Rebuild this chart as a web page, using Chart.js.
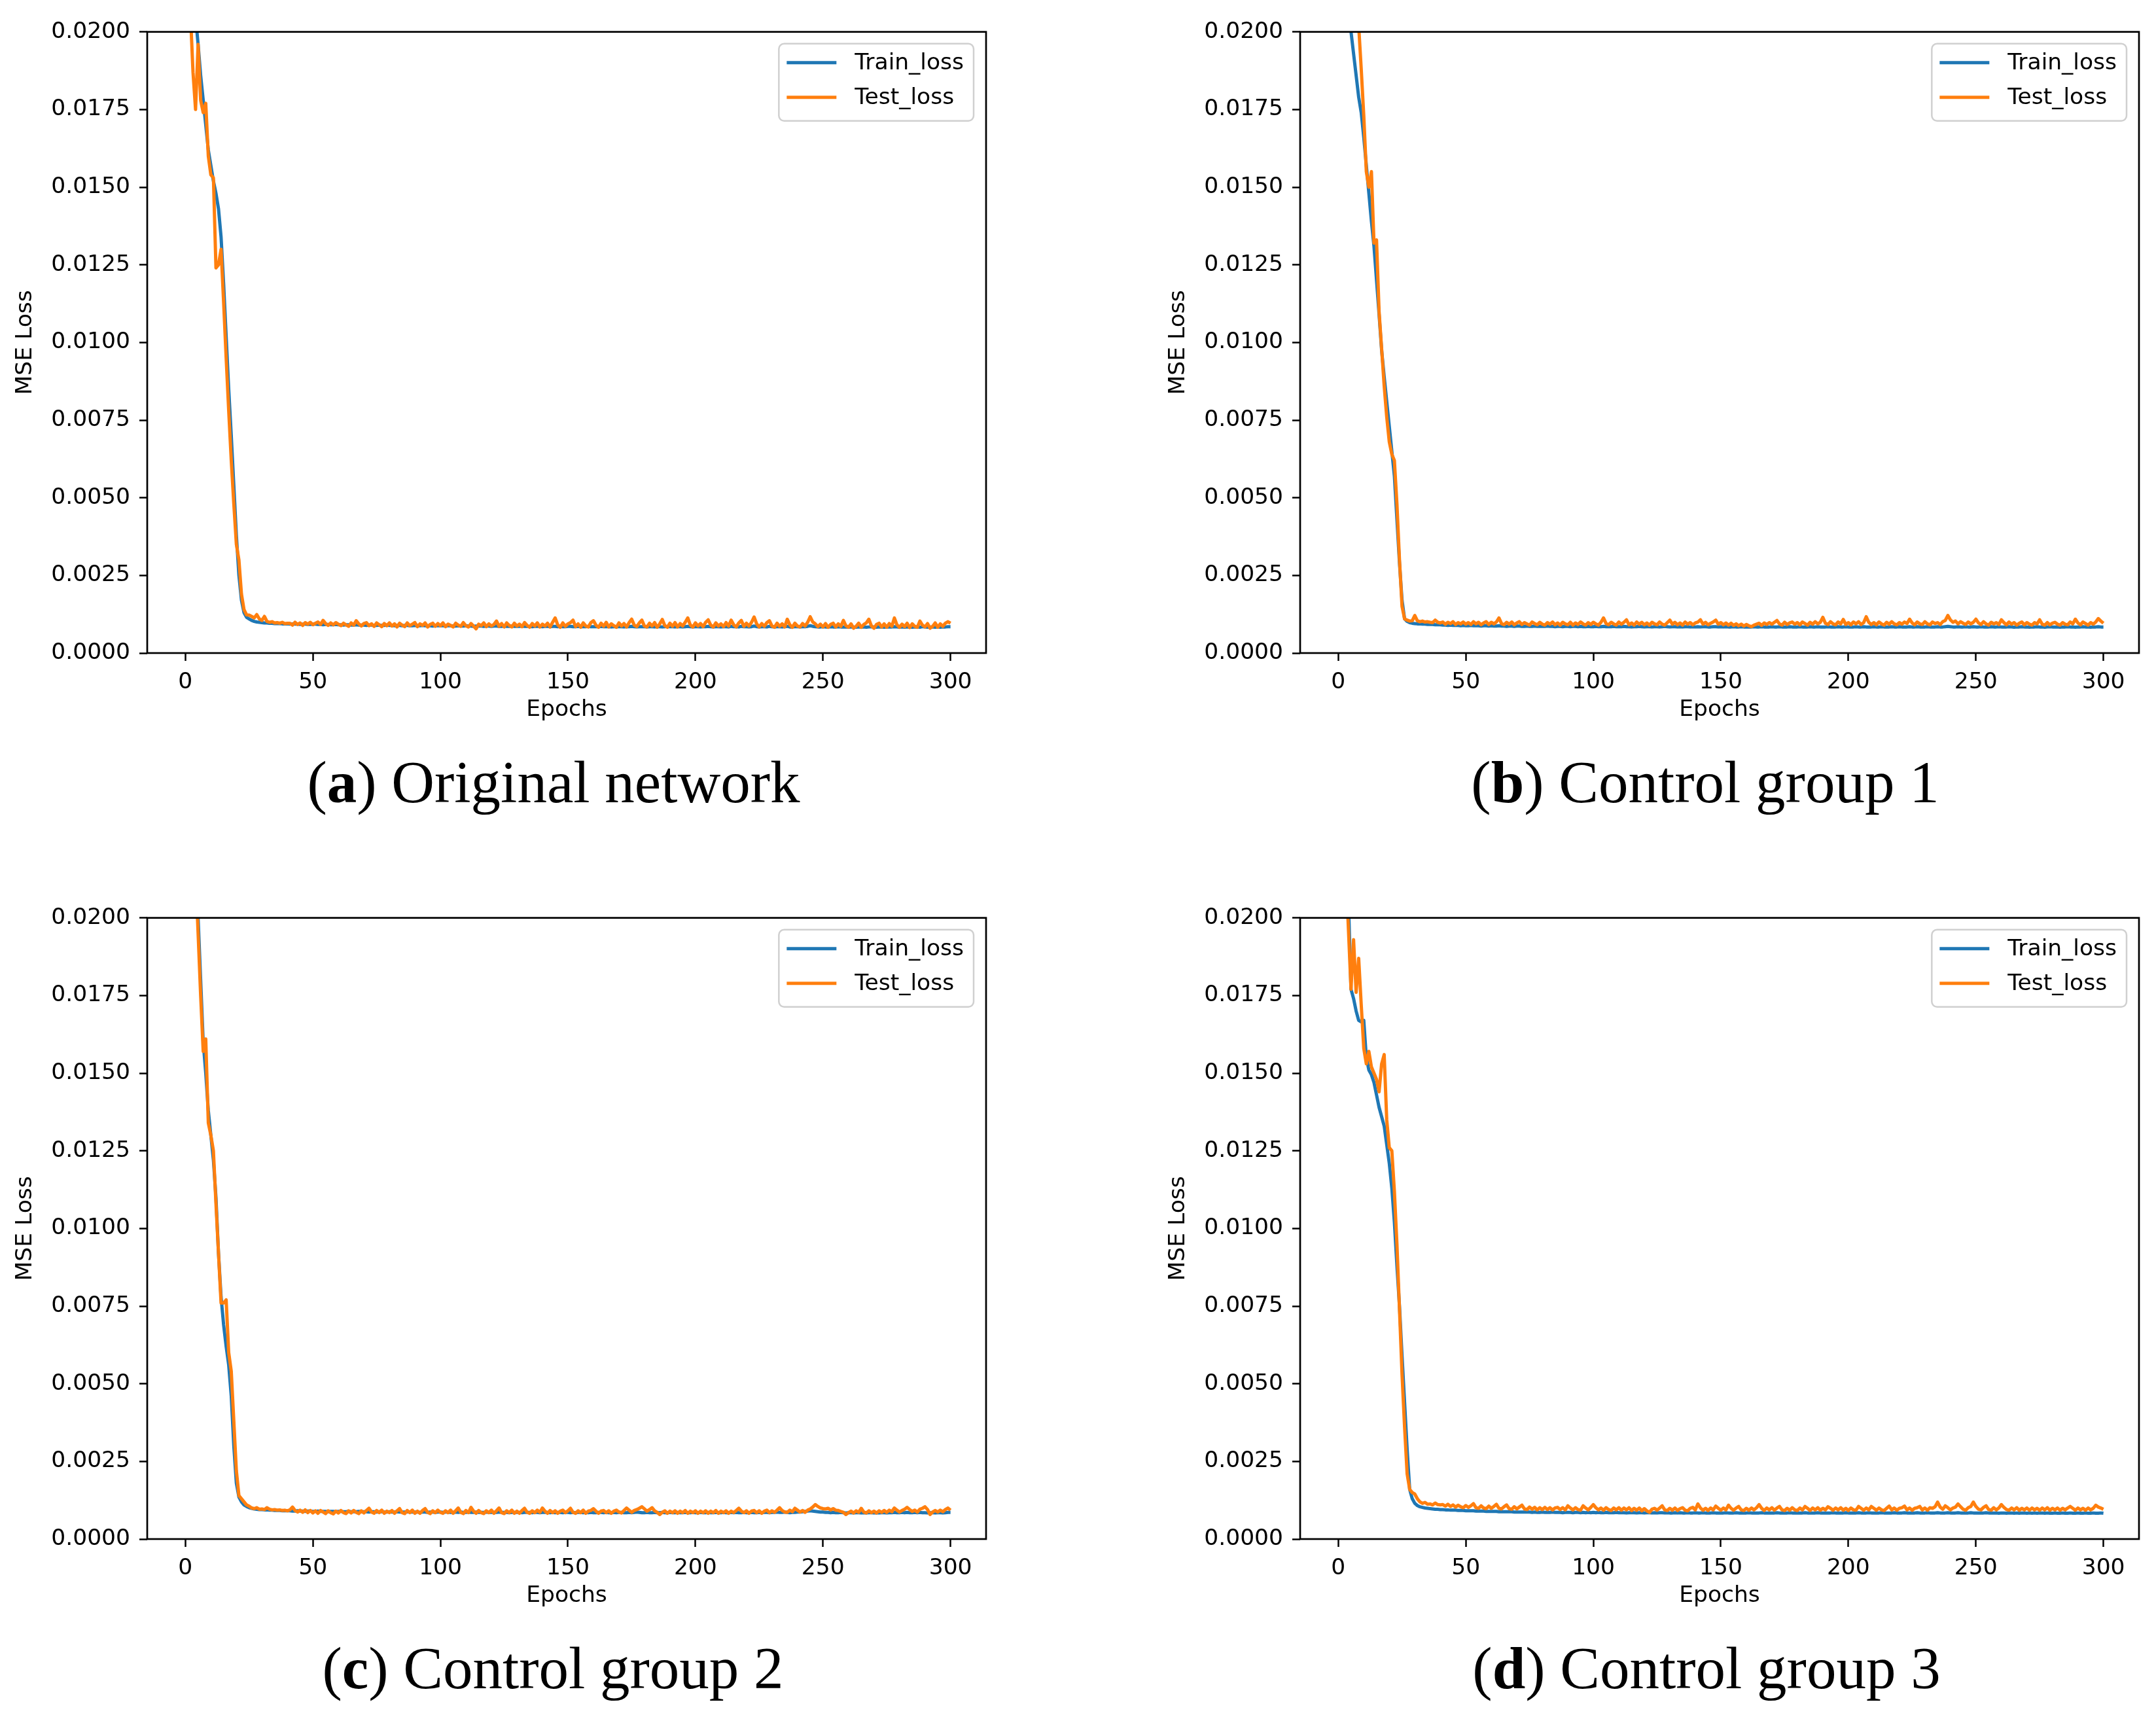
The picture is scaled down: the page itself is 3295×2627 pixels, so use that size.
<!DOCTYPE html>
<html>
<head>
<meta charset="utf-8">
<script src="https://cdn.jsdelivr.net/npm/chart.js@4.4.0/dist/chart.umd.min.js"></script>
<style>
  body { margin: 0; width: 3295px; height: 2627px; background: #fff; position: relative; overflow: hidden; }
  .panel { position: absolute; width: 1537px; height: 1104px; }
  .caption { position: absolute; width: 1600px; text-align: center; font-family: "Liberation Serif", serif;
             font-size: 91px; line-height: 91px; color: #000; white-space: nowrap; }
</style>
</head>
<body>
<div class="panel" style="left:0px;top:14px"><canvas id="chartA"></canvas></div>
<div class="panel" style="left:1762px;top:14px"><canvas id="chartB"></canvas></div>
<div class="panel" style="left:0px;top:1368px"><canvas id="chartC"></canvas></div>
<div class="panel" style="left:1762px;top:1368px"><canvas id="chartD"></canvas></div>

<div class="caption" style="left:46px;top:1150px">(<b>a</b>) Original network</div>
<div class="caption" style="left:1806px;top:1150px">(<b>b</b>) Control group 1</div>
<div class="caption" style="left:45px;top:2504px">(<b>c</b>) Control group 2</div>
<div class="caption" style="left:1808px;top:2504px">(<b>d</b>) Control group 3</div>

<script>
// losses are stored in units of 1e-5 (e.g. 92 = 0.00092), epoch 1..300
const EPOCHS = Array.from({ length: 300 }, (_, i) => i + 1);
const X_TICKS = [0, 50, 100, 150, 200, 250, 300];
const Y_TICKS = [0, 250, 500, 750, 1000, 1250, 1500, 1750, 2000];
const Y_TICK_LABELS = ["0.0000", "0.0025", "0.0050", "0.0075", "0.0100", "0.0125", "0.0150", "0.0175", "0.0200"];
const SERIES_NAMES = ["Train_loss", "Test_loss"];

const TRAIN_A = [
  2700, 2450, 2250, 2050, 1960, 1860, 1780, 1700, 1620, 1570,
  1520, 1480, 1430, 1340, 1190, 1020, 850, 700, 540, 380,
  250, 170, 130, 115, 110, 105, 102, 100, 99, 98,
  97, 97, 96, 96, 95, 95, 95, 94, 94, 94,
  93, 94, 93, 93, 92, 93, 93, 92, 92, 93,
  93, 92, 92, 91, 92, 92, 91, 91, 92, 91,
  91, 90, 91, 91, 90, 90, 91, 90, 90, 90,
  89, 90, 90, 89, 89, 90, 89, 89, 90, 89,
  89, 88, 89, 89, 88, 89, 89, 88, 88, 89,
  88, 88, 89, 88, 88, 88, 87, 88, 88, 88,
  88, 87, 88, 88, 87, 87, 88, 87, 87, 88,
  87, 87, 86, 87, 87, 87, 86, 87, 87, 86,
  87, 87, 86, 86, 87, 86, 86, 87, 86, 86,
  86, 87, 86, 86, 86, 85, 86, 86, 86, 85,
  86, 86, 85, 86, 86, 85, 86, 85, 85, 86,
  86, 85, 85, 86, 85, 85, 85, 86, 85, 85,
  85, 85, 86, 85, 85, 85, 84, 85, 85, 85,
  85, 84, 85, 85, 86, 85, 84, 85, 85, 85,
  84, 85, 85, 84, 85, 85, 84, 85, 86, 85,
  85, 84, 85, 85, 84, 85, 86, 85, 84, 85,
  85, 84, 85, 85, 86, 85, 84, 85, 85, 84,
  85, 85, 84, 86, 85, 85, 84, 86, 85, 85,
  84, 85, 87, 85, 84, 85, 85, 84, 86, 85,
  84, 85, 85, 84, 85, 86, 84, 84, 85, 85,
  84, 85, 85, 86, 88, 86, 85, 84, 84, 85,
  84, 84, 85, 84, 84, 85, 84, 84, 84, 83,
  84, 84, 83, 84, 84, 84, 83, 84, 85, 84,
  83, 84, 84, 83, 84, 84, 84, 85, 84, 83,
  84, 83, 84, 84, 83, 84, 84, 83, 85, 84,
  83, 84, 84, 83, 84, 83, 84, 84, 85, 85
];
const TEST_A = [
  2350, 2060, 1870, 1750, 1960, 1780, 1740, 1770, 1600, 1540,
  1530, 1240, 1250, 1300, 1130, 950, 780, 620, 480, 350,
  300, 190, 140, 123, 122, 118, 113, 124, 110, 105,
  118, 102, 99, 101, 97, 98, 96, 99, 95, 96,
  96, 90, 99, 92, 97, 89, 98, 93, 99, 91,
  96, 100, 92, 105, 95, 89, 97, 91, 98, 93,
  88, 96, 91, 86, 97, 90, 104, 94, 87, 95,
  98, 88, 94, 86, 97, 91, 85, 95, 88, 97,
  87, 94, 84, 96, 90, 85, 97, 88, 93, 98,
  85, 94, 89, 97, 84, 92, 96, 86, 95, 88,
  97, 85, 93, 89, 84, 96, 90, 86, 98, 88,
  84, 95, 87, 78, 93, 88, 97, 85, 94, 87,
  92, 103, 86, 95, 84, 97, 89, 84, 96, 87,
  93, 85, 98, 89, 83, 95, 87, 97, 84, 93,
  87, 96, 84, 99, 113, 91, 83, 97, 86, 94,
  98, 106, 85, 94, 83, 97, 87, 84, 98, 104,
  90, 83, 96, 86, 99, 84, 94, 88, 83, 97,
  87, 95, 84, 98, 109, 90, 85, 97, 106, 87,
  84, 96, 87, 98, 83, 94, 108, 88, 83, 96,
  86, 98, 84, 95, 87, 99, 113, 90, 84, 97,
  87, 95, 85, 99, 107, 90, 84, 97, 87, 94,
  85, 98, 87, 106, 91, 84, 97, 105, 86, 96,
  87, 99, 116, 94, 84, 95, 86, 98, 104, 87,
  83, 96, 86, 94, 84, 109, 91, 83, 96, 87,
  84, 95, 87, 99, 117, 100, 94, 85, 93, 84,
  95, 83, 92, 96, 84, 94, 86, 105, 88, 83,
  94, 80, 86, 96, 83, 92, 97, 109, 87, 80,
  92, 96, 84, 94, 83, 95, 86, 113, 91, 83,
  93, 85, 96, 82, 94, 86, 83, 103, 90, 84,
  95, 80, 86, 97, 83, 94, 86, 96, 101, 96
];

const TRAIN_B = [
  2500, 2350, 2200, 2100, 2000, 1930, 1860, 1790, 1740, 1660,
  1570, 1480, 1390, 1310, 1200, 1090, 975, 890, 810, 730,
  650, 570, 430, 290, 170, 110, 102, 98, 96, 95,
  94, 94, 93, 93, 92, 92, 92, 91, 91, 91,
  90, 90, 89, 90, 89, 89, 89, 88, 89, 88,
  88, 89, 88, 88, 88, 87, 88, 88, 87, 88,
  87, 87, 88, 87, 87, 86, 87, 87, 86, 87,
  87, 86, 86, 87, 86, 86, 87, 86, 86, 86,
  86, 87, 86, 86, 85, 86, 86, 85, 86, 86,
  85, 86, 86, 85, 86, 85, 85, 86, 85, 85,
  86, 85, 85, 86, 85, 85, 85, 86, 85, 85,
  85, 86, 85, 85, 84, 85, 85, 86, 85, 84,
  85, 85, 84, 85, 85, 84, 85, 86, 85, 84,
  85, 85, 84, 85, 84, 85, 85, 84, 85, 84,
  85, 84, 85, 85, 84, 84, 85, 85, 84, 85,
  84, 85, 84, 84, 85, 84, 84, 85, 84, 84,
  84, 84, 85, 84, 84, 85, 84, 84, 84, 85,
  84, 84, 85, 84, 84, 84, 85, 84, 84, 84,
  85, 84, 84, 84, 85, 84, 84, 85, 84, 84,
  84, 85, 84, 84, 84, 85, 84, 84, 85, 84,
  84, 84, 85, 84, 84, 85, 84, 84, 84, 85,
  84, 84, 85, 84, 84, 84, 85, 84, 84, 85,
  84, 84, 84, 85, 84, 84, 85, 84, 84, 84,
  85, 84, 84, 84, 85, 84, 84, 85, 86, 85,
  84, 84, 85, 84, 84, 85, 84, 84, 85, 84,
  84, 85, 84, 84, 84, 85, 84, 84, 85, 84,
  84, 84, 85, 84, 83, 84, 84, 85, 84, 84,
  83, 84, 84, 85, 84, 84, 83, 84, 85, 84,
  84, 84, 83, 84, 84, 85, 84, 84, 83, 84,
  84, 85, 84, 84, 83, 84, 84, 85, 84, 84
];
const TEST_B = [
  3000, 2800, 2600, 2450, 2300, 2200, 2100, 2020, 1880, 1730,
  1550, 1500, 1550, 1320, 1330, 1100, 980, 860, 760, 680,
  640, 620, 480, 300, 150, 110, 106, 103, 104, 121,
  104, 101, 103, 100, 101, 99, 98, 106, 99, 97,
  100, 93, 99, 95, 101, 92, 98, 94, 100, 93,
  98, 92, 101, 94, 99, 91, 97, 101, 92, 99,
  94, 100, 113, 95, 91, 99, 93, 100, 91, 97,
  101, 92, 98, 94, 90, 100, 95, 91, 99, 93,
  90, 98, 93, 100, 91, 97, 90, 99, 94, 91,
  99, 90, 97, 92, 100, 94, 90, 98, 92, 99,
  94, 90, 99, 113, 95, 91, 99, 94, 90, 100,
  93, 99, 107, 91, 97, 90, 100, 93, 99, 91,
  97, 90, 99, 94, 91, 100, 93, 90, 98, 106,
  93, 99, 91, 97, 90, 100, 93, 98, 91, 97,
  100, 107, 93, 99, 91, 96, 100, 106, 93, 98,
  91, 97, 90, 96, 89, 94, 88, 93, 87, 92,
  88, 85, 90, 93, 96, 89, 97, 92, 98, 93,
  99, 105, 94, 90, 99, 92, 97, 100, 93, 98,
  91, 100, 95, 90, 99, 93, 101, 94, 99, 115,
  96, 92, 101, 94, 91, 100, 94, 108, 92, 98,
  91, 100, 94, 101, 92, 98, 117, 99, 92, 98,
  91, 100, 94, 90, 99, 93, 101, 94, 91, 98,
  93, 100, 95, 109, 97, 91, 100, 94, 92, 101,
  94, 91, 100, 95, 98, 92, 101, 105, 121, 107,
  99, 103, 94, 101, 96, 92, 100, 94, 99, 109,
  97, 92, 101, 94, 90, 99, 94, 98, 92, 107,
  98, 91, 100, 93, 98, 90, 96, 100, 91, 98,
  93, 90, 98, 94, 107, 93, 90, 98, 91, 96,
  99, 93, 90, 98, 93, 91, 100, 94, 109, 97,
  91, 100, 95, 90, 98, 93, 100, 111, 103, 96
];

const TRAIN_C = [
  2700, 2500, 2300, 2120, 2000, 1800, 1600, 1500, 1380, 1300,
  1220, 1100, 920, 780, 690, 620, 560, 460, 300, 180,
  135, 120, 110, 105, 101, 99, 97, 96, 95, 95,
  94, 94, 93, 93, 92, 92, 92, 91, 91, 91,
  91, 90, 90, 91, 90, 90, 89, 90, 90, 89,
  89, 90, 89, 89, 89, 88, 89, 89, 88, 89,
  89, 88, 88, 89, 88, 88, 88, 89, 88, 88,
  88, 87, 88, 88, 87, 88, 88, 87, 87, 88,
  87, 87, 88, 87, 87, 87, 88, 87, 87, 87,
  87, 86, 87, 87, 86, 87, 87, 86, 87, 87,
  86, 87, 87, 86, 86, 87, 86, 87, 86, 86,
  87, 86, 86, 87, 86, 86, 86, 87, 86, 86,
  86, 86, 87, 86, 86, 86, 85, 86, 86, 86,
  86, 85, 86, 86, 86, 85, 86, 86, 85, 86,
  86, 86, 85, 86, 85, 86, 86, 85, 86, 86,
  85, 86, 85, 86, 86, 85, 86, 85, 86, 85,
  85, 86, 86, 85, 86, 85, 85, 86, 85, 86,
  86, 85, 85, 86, 85, 86, 87, 86, 85, 85,
  86, 85, 85, 86, 85, 85, 86, 85, 85, 86,
  85, 85, 86, 85, 85, 86, 85, 85, 86, 85,
  85, 86, 85, 85, 86, 85, 85, 86, 85, 85,
  86, 85, 85, 86, 85, 86, 85, 85, 86, 85,
  85, 86, 85, 85, 86, 85, 86, 86, 85, 86,
  86, 87, 86, 86, 87, 86, 85, 86, 86, 87,
  87, 88, 89, 90, 91, 90, 89, 88, 87, 87,
  86, 86, 85, 86, 85, 85, 86, 85, 84, 85,
  85, 84, 85, 85, 84, 85, 84, 85, 85, 84,
  85, 84, 85, 85, 84, 85, 85, 86, 85, 85,
  86, 85, 86, 85, 85, 86, 85, 86, 85, 85,
  84, 85, 85, 84, 85, 85, 84, 85, 86, 86
];
const TEST_C = [
  3000, 2700, 2400, 2150, 1950, 1750, 1570, 1610, 1340, 1300,
  1250, 1080, 920, 760, 760, 770, 600, 540, 380, 220,
  140, 130, 120, 110, 106, 100, 98, 101, 96, 97,
  95, 101, 96, 94, 95, 93, 94, 92, 93, 91,
  94, 103, 92, 87, 93, 86, 94, 85, 92, 84,
  91, 83, 92, 87, 82, 91, 85, 81, 90, 84,
  92, 85, 82, 91, 84, 92, 86, 82, 91, 84,
  92, 99, 87, 83, 92, 85, 93, 83, 90, 85,
  92, 83, 91, 98, 85, 82, 92, 85, 93, 83,
  90, 83, 92, 98, 86, 82, 91, 85, 93, 86,
  83, 91, 85, 93, 83, 91, 100, 86, 82, 92,
  85, 102, 90, 83, 92, 85, 82, 91, 85, 93,
  83, 91, 100, 85, 82, 91, 85, 93, 83, 90,
  83, 92, 99, 86, 83, 91, 85, 93, 86, 100,
  90, 83, 92, 85, 91, 83, 90, 93, 85, 91,
  99, 86, 83, 91, 85, 93, 83, 90, 92, 98,
  90, 83, 90, 92, 85, 91, 83, 90, 93, 87,
  84, 92, 100, 93, 86, 92, 95, 99, 104, 97,
  90, 95, 101, 91, 86, 79, 86, 91, 83, 90,
  85, 91, 83, 90, 85, 92, 83, 90, 85, 91,
  83, 90, 85, 91, 83, 90, 85, 92, 83, 90,
  85, 91, 83, 90, 85, 92, 99, 90, 85, 91,
  83, 90, 92, 85, 91, 83, 90, 93, 85, 91,
  86, 93, 101, 92, 87, 86, 93, 88, 99, 93,
  87, 92, 86, 93, 97, 103, 111, 105, 100, 98,
  97, 99, 94, 98, 93, 92, 89, 86, 79, 85,
  90, 84, 91, 86, 99, 87, 84, 91, 85, 90,
  84, 91, 86, 92, 86, 93, 88, 100, 93, 87,
  92, 96, 102, 95, 89, 93, 87, 96, 99, 104,
  95, 79, 87, 92, 87, 93, 88, 95, 100, 93
];

const TRAIN_D = [
  2600, 2400, 2200, 2050, 1770, 1740, 1700, 1670, 1665, 1670,
  1550, 1510, 1495, 1470, 1430, 1390, 1360, 1330, 1270, 1210,
  1130, 1020, 880, 750, 590, 440, 290, 160, 130, 115,
  108, 104, 102, 100, 99, 98, 97, 96, 96, 95,
  95, 94, 94, 93, 93, 93, 92, 92, 92, 91,
  91, 91, 91, 90, 90, 90, 90, 89, 89, 89,
  89, 89, 88, 88, 88, 88, 88, 88, 87, 87,
  87, 87, 87, 87, 87, 86, 87, 86, 86, 87,
  86, 86, 86, 87, 86, 86, 86, 85, 86, 86,
  86, 85, 86, 86, 85, 86, 85, 86, 85, 86,
  85, 86, 85, 85, 86, 85, 85, 85, 86, 85,
  85, 85, 84, 85, 85, 85, 84, 85, 85, 84,
  85, 85, 84, 85, 84, 85, 85, 84, 85, 84,
  84, 85, 84, 85, 84, 84, 85, 84, 84, 85,
  84, 84, 85, 84, 84, 84, 85, 84, 84, 84,
  84, 85, 84, 84, 84, 85, 84, 84, 84, 84,
  85, 84, 84, 84, 84, 85, 84, 84, 84, 84,
  84, 85, 84, 84, 84, 84, 85, 84, 84, 84,
  84, 84, 85, 84, 84, 84, 84, 85, 84, 84,
  84, 84, 84, 85, 84, 84, 84, 84, 85, 84,
  84, 84, 84, 85, 84, 84, 84, 85, 84, 84,
  84, 84, 85, 84, 84, 84, 84, 85, 84, 84,
  84, 85, 84, 84, 84, 84, 85, 84, 84, 84,
  85, 84, 84, 84, 85, 84, 84, 84, 85, 84,
  84, 84, 85, 84, 84, 84, 84, 85, 84, 84,
  84, 84, 84, 85, 84, 84, 84, 84, 83, 84,
  84, 83, 84, 84, 83, 84, 83, 84, 84, 83,
  84, 83, 84, 83, 84, 84, 83, 84, 83, 83,
  84, 83, 83, 84, 83, 83, 84, 83, 83, 84,
  83, 83, 84, 83, 83, 84, 83, 83, 84, 83
];
const TEST_D = [
  2900, 2600, 2150, 1960, 1770, 1930, 1760, 1870, 1720, 1580,
  1530, 1570, 1520, 1500, 1480, 1440, 1530, 1560, 1350, 1260,
  1250, 1120, 950, 740, 530, 360, 210, 160, 150, 145,
  130, 120, 115, 118, 112, 113, 110, 116, 111, 110,
  111, 106, 112, 105, 110, 103, 109, 104, 101, 108,
  102, 107, 114, 101, 99, 107, 100, 98, 106, 99,
  105, 112, 99, 97, 104, 110, 98, 96, 104, 97,
  103, 109, 97, 95, 103, 96, 102, 94, 101, 95,
  102, 95, 101, 94, 100, 102, 95, 101, 94, 107,
  100, 94, 101, 95, 93, 107, 100, 94, 102, 111,
  101, 94, 100, 93, 101, 95, 92, 100, 94, 101,
  93, 100, 94, 101, 92, 99, 93, 100, 91, 98,
  91, 86, 96, 99, 93, 100, 107, 94, 92, 99,
  93, 100, 92, 98, 101, 93, 91, 99, 102, 94,
  113, 100, 93, 99, 92, 100, 94, 106, 99, 93,
  100, 94, 109, 99, 93, 100, 105, 94, 92, 99,
  93, 100, 94, 101, 111, 99, 92, 100, 94, 101,
  93, 100, 105, 94, 92, 99, 93, 101, 94, 92,
  100, 94, 105, 99, 92, 100, 94, 101, 93, 99,
  94, 104, 99, 93, 100, 94, 101, 93, 99, 92,
  100, 94, 93, 105, 99, 93, 100, 94, 105, 99,
  93, 100, 94, 92, 99, 106, 94, 100, 93, 99,
  101, 106, 94, 100, 93, 99, 101, 105, 94, 100,
  93, 101, 99, 104, 119, 103, 96, 107, 101, 94,
  100, 103, 113, 104, 96, 93, 101, 105, 119, 105,
  96, 94, 102, 107, 95, 93, 101, 94, 100, 111,
  102, 95, 93, 100, 94, 101, 93, 99, 94, 100,
  93, 100, 94, 99, 93, 100, 94, 101, 93, 99,
  94, 100, 93, 99, 94, 100, 105, 99, 93, 100,
  94, 99, 93, 100, 94, 99, 109, 103, 100, 96
];

const BLUE = "#1f77b4";
const ORANGE = "#ff7f0e";
const FONT = '"DejaVu Sans", sans-serif';
const FONT_SIZE = 34.5;

// matplotlib-style frame around the plot area
const frame = {
  id: "frame",
  afterDatasetsDraw(chart) {
    const { ctx, chartArea: a } = chart;
    ctx.save();
    ctx.strokeStyle = "#000";
    ctx.lineWidth = 2.7;
    ctx.strokeRect(a.left, a.top, a.right - a.left, a.bottom - a.top);
    ctx.restore();
  },
};

// legend box in the upper right corner, drawn inside the axes
const legendBox = {
  id: "legendBox",
  afterDraw(chart) {
    const { ctx, chartArea: a } = chart;
    const items = [chart.data.datasets[0], chart.data.datasets[1]];
    ctx.save();
    ctx.font = `${FONT_SIZE}px ${FONT}`;
    const textW = Math.max(...items.map((d) => ctx.measureText(d.label).width));
    const w = 116 + textW + 15;
    const h = 118;
    const x = a.right - 19 - w;
    const y = a.top + 18;
    ctx.beginPath();
    if (ctx.roundRect) ctx.roundRect(x, y, w, h, 8);
    else ctx.rect(x, y, w, h);
    ctx.fillStyle = "rgba(255,255,255,0.8)";
    ctx.fill();
    ctx.strokeStyle = "#d0d0d0";
    ctx.lineWidth = 2.5;
    ctx.stroke();
    items.forEach((d, i) => {
      const cy = y + 29 + i * 53;
      ctx.beginPath();
      ctx.moveTo(x + 12, cy);
      ctx.lineTo(x + 88, cy);
      ctx.strokeStyle = d.borderColor;
      ctx.lineWidth = 5;
      ctx.stroke();
      ctx.fillStyle = "#000";
      ctx.textBaseline = "middle";
      ctx.textAlign = "left";
      ctx.fillText(d.label, x + 116, cy + 1);
    });
    ctx.restore();
  },
};

function makeChart(id, train, test) {
  const ctx = document.getElementById(id);
  return new Chart(ctx, {
    type: "line",
    data: {
      labels: EPOCHS,
      datasets: [
        { label: SERIES_NAMES[0], data: train, borderColor: BLUE, order: 2 },
        { label: SERIES_NAMES[1], data: test, borderColor: ORANGE, order: 1 },
      ],
    },
    options: {
      responsive: true,
      maintainAspectRatio: false,
      devicePixelRatio: 1,
      animation: false,
      layout: { padding: { left: 0, top: 30, right: 30, bottom: 0 } },
      elements: {
        line: { borderWidth: 5, tension: 0, fill: false, borderJoinStyle: "round", borderCapStyle: "butt" },
        point: { radius: 0, hoverRadius: 0 },
      },
      datasets: { line: { clip: 0 } },
      plugins: { legend: { display: false }, tooltip: { enabled: false } },
      scales: {
        x: {
          type: "linear",
          min: -14.95,
          max: 313.95,
          afterBuildTicks: (scale) => { scale.ticks = X_TICKS.map((v) => ({ value: v })); },
          afterFit: (scale) => { scale.height = 120; },
          ticks: { color: "#000", font: { family: FONT, size: FONT_SIZE }, padding: 12, maxRotation: 0,
                   callback: (v) => String(v) },
          grid: { drawOnChartArea: false, drawTicks: true, tickLength: 12, tickWidth: 2.5, tickColor: "#000" },
          border: { display: false },
          title: { display: true, text: "Epochs", color: "#000", font: { family: FONT, size: FONT_SIZE },
                   padding: { top: 0, bottom: 12 } },
        },
        y: {
          min: 0,
          max: 2000,
          afterBuildTicks: (scale) => { scale.ticks = Y_TICKS.map((v) => ({ value: v })); },
          afterFit: (scale) => { scale.width = 225; },
          ticks: { color: "#000", font: { family: FONT, size: FONT_SIZE }, padding: 14,
                   callback: (v, i) => Y_TICK_LABELS[i] },
          grid: { drawOnChartArea: false, drawTicks: true, tickLength: 12, tickWidth: 2.5, tickColor: "#000" },
          border: { display: false },
          title: { display: true, text: "MSE Loss", color: "#000", font: { family: FONT, size: FONT_SIZE },
                   padding: { top: 18, bottom: 0 } },
        },
      },
    },
    plugins: [frame, legendBox],
  });
}

makeChart("chartA", TRAIN_A, TEST_A);
makeChart("chartB", TRAIN_B, TEST_B);
makeChart("chartC", TRAIN_C, TEST_C);
makeChart("chartD", TRAIN_D, TEST_D);
</script>
</body>
</html>
